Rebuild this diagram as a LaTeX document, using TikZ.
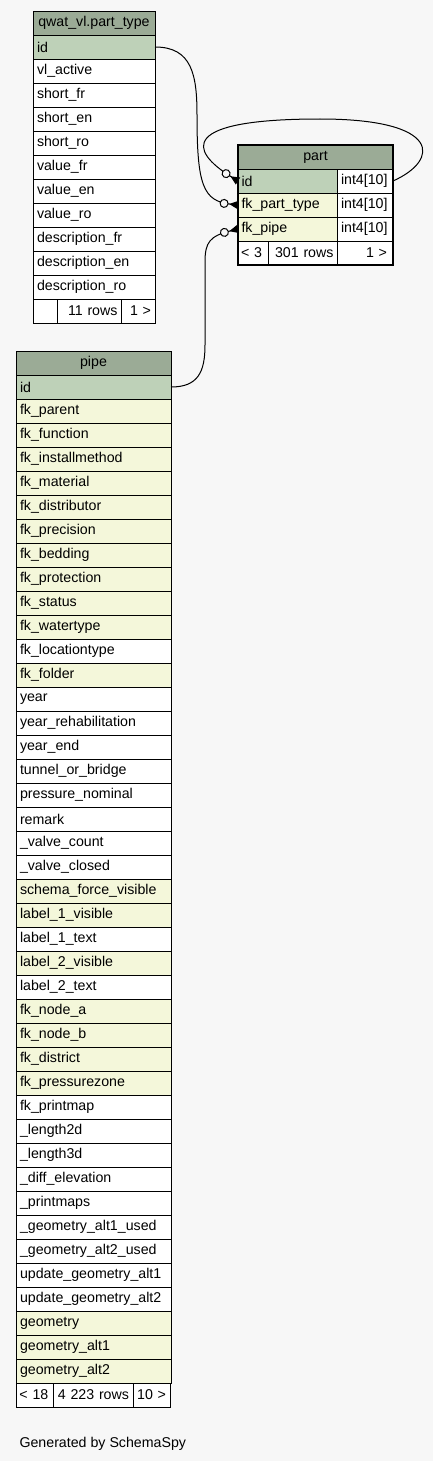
\documentclass[tikz,border=0pt]{standalone}
\usepackage{fontspec}
\setmainfont{Liberation Sans}
\usetikzlibrary{arrows.meta}

\definecolor{headbg}{HTML}{9BAB96}
\definecolor{keybg}{HTML}{BED1B8}
\definecolor{idxbg}{HTML}{F4F7DA}
\definecolor{pagebg}{HTML}{F7F7F7}

\tikzset{
  cell/.style={draw, line width=0.8pt, anchor=north west, minimum height=24pt,
    inner sep=0pt, outer sep=0pt, fill=white, font=\fontsize{14.2}{17}\selectfont},
  lcell/.style 2 args={cell, minimum width=#1, text width=#2, align=left},
  rcell/.style 2 args={cell, minimum width=#1, text width=#2, align=right},
  headcell/.style={cell, fill=headbg, minimum width=#1, align=center},
  fkline/.style={line width=1pt,
    -{Circle[fill=pagebg,length=9pt,width=9pt,sep=0.5pt] Triangle[reversed,length=9pt,width=8pt]}},
}

\begin{document}
\begin{tikzpicture}[x=1pt,y=-1pt]
\path[fill=pagebg, use as bounding box] (0,0) rectangle (433,1461);

% Table qwat_vl.part_type
\node[headcell=122pt] (pt-head) at (33,11) {qwat\_vl.part\_type};
\node[lcell={122pt}{114pt}, fill=keybg] (pt-id) at (33,35) {id};
\foreach \col [count=\i] in {vl\_active,short\_fr,short\_en,short\_ro,value\_fr,value\_en,value\_ro,description\_fr,description\_en,description\_ro}
  \node[lcell={122pt}{114pt}] (pt-\i) at (33,35+24*\i) {\col};
\node[cell, minimum width=24pt] (pt-f1) at (33,299) {};
\node[rcell={64pt}{57pt}] (pt-f2) at (57,299) {11 rows};
\node[rcell={34pt}{26pt}] (pt-f3) at (121,299) {1 >};

% Table part
\node[headcell=155pt] (part-head) at (238,145) {part};
\node[lcell={99pt}{92pt}, fill=keybg] (part-id) at (238,169) {id};
\node[lcell={56pt}{48pt}] (part-idtype) at (337,169) {int4[10]};
\node[lcell={99pt}{92pt}, fill=idxbg] (part-fktype) at (238,193) {fk\_part\_type};
\node[lcell={56pt}{48pt}] (part-fktypetype) at (337,193) {int4[10]};
\node[lcell={99pt}{92pt}, fill=idxbg] (part-fkpipe) at (238,217) {fk\_pipe};
\node[lcell={56pt}{48pt}] (part-fkpipetype) at (337,217) {int4[10]};
\node[lcell={30pt}{24pt}] (part-f1) at (238,241) {< 3};
\node[rcell={69pt}{62pt}] (part-f2) at (268,241) {301 rows};
\node[rcell={56pt}{44pt}] (part-f3) at (337,241) {1 >};
\draw[line width=2.6pt] (part-head.north west) rectangle (part-f3.south east);

% Table pipe
\node[headcell=155pt] (pipe-head) at (16,351) {pipe};
\node[lcell={155pt}{147pt}, fill=keybg] (pipe-id) at (16,375) {id};
\foreach \col/\bg [count=\i] in {fk\_parent/idxbg,fk\_function/idxbg,fk\_installmethod/idxbg,
    fk\_material/idxbg,fk\_distributor/idxbg,fk\_precision/idxbg,fk\_bedding/idxbg,
    fk\_protection/idxbg,fk\_status/idxbg,fk\_watertype/idxbg,fk\_locationtype/white,
    fk\_folder/idxbg,year/white,year\_rehabilitation/white,year\_end/white,
    tunnel\_or\_bridge/white,pressure\_nominal/white,remark/white,\_valve\_count/white,
    \_valve\_closed/white,schema\_force\_visible/idxbg,label\_1\_visible/idxbg,
    label\_1\_text/white,label\_2\_visible/idxbg,label\_2\_text/white,fk\_node\_a/idxbg,
    fk\_node\_b/idxbg,fk\_district/idxbg,fk\_pressurezone/idxbg,fk\_printmap/white,
    \_length2d/white,\_length3d/white,\_diff\_elevation/white,\_printmaps/white,
    \_geometry\_alt1\_used/white,\_geometry\_alt2\_used/white,update\_geometry\_alt1/white,
    update\_geometry\_alt2/white,geometry/idxbg,geometry\_alt1/idxbg,geometry\_alt2/idxbg}
  \node[lcell={155pt}{147pt}, fill=\bg] (pipe-\i) at (16,375+24*\i) {\col};
\node[lcell={37pt}{30pt}] (pipe-f1) at (16,1383) {< 18};
\node[rcell={80pt}{72pt}] (pipe-f2) at (53,1383) {4 223 rows};
\node[rcell={37pt}{29pt}] (pipe-f3) at (133,1383) {10 >};

% Links
\draw[fkline] (pt-id.east) .. controls (192,47) and (197,75) .. (197,115)
  .. controls (197,185) and (203,201) .. (part-fktype.west);
\draw[fkline] (pipe-id.east) .. controls (198,387) and (205,372) .. (205,345) -- (205,262)
  .. controls (205,242) and (210,236) .. (part-fkpipe.west);
\draw[fkline] (part-idtype.east) .. controls (440,160) and (442,119) .. (320,119)
  .. controls (180,119) and (188,150) .. (part-id.west);

% Caption
\node[anchor=base west, font=\fontsize{14.2}{17}\selectfont] (caption) at (16,1447) {Generated by SchemaSpy};
\end{tikzpicture}
\end{document}
